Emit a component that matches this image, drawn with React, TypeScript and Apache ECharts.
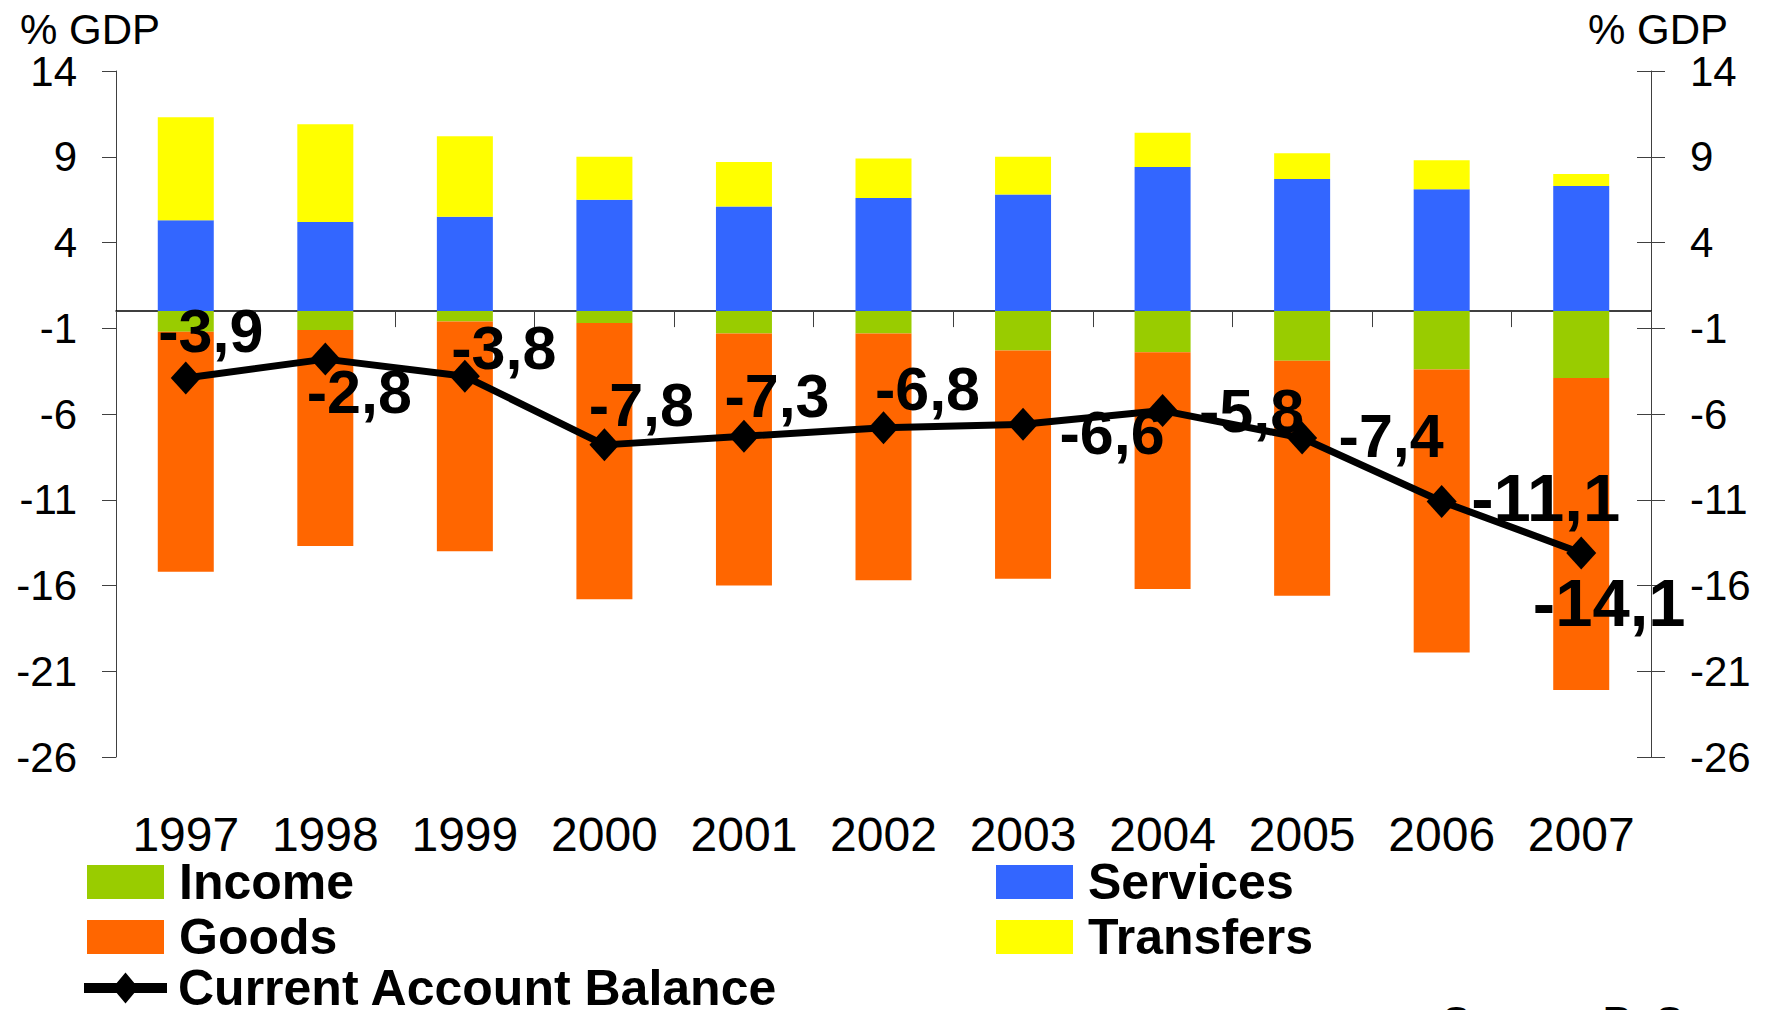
import React, { useEffect, useRef } from "react";
import * as echarts from "echarts";

const years = ["1997", "1998", "1999", "2000", "2001", "2002", "2003", "2004", "2005", "2006", "2007"];
const income = [-1.2, -1.1, -0.6, -0.7, -1.3, -1.3, -2.3, -2.4, -2.9, -3.4, -3.9];
const goods = [-14.0, -12.6, -13.4, -16.1, -14.7, -14.4, -13.3, -13.8, -13.7, -16.5, -18.2];
const services = [5.3, 5.2, 5.5, 6.5, 6.1, 6.6, 6.8, 8.4, 7.7, 7.1, 7.3];
const transfers = [6.0, 5.7, 4.7, 2.5, 2.6, 2.3, 2.2, 2.0, 1.5, 1.7, 0.7];
const balance = [-3.9, -2.8, -3.8, -7.8, -7.3, -6.8, -6.6, -5.8, -7.4, -11.1, -14.1];
const yTicks = [-26, -21, -16, -11, -6, -1, 4, 9, 14];

// label placement (layout only): [dx, dy, fontSize]
const labelLayout: [number, number, number][] = [
  [25, -47, 61],
  [34, 33, 61],
  [39, -28, 61],
  [37, -40, 61],
  [33, -40, 61],
  [44, -39, 61],
  [89, 9, 61],
  [89, 0, 61],
  [89, -2, 61],
  [104, -4, 67],
  [28, 50, 67],
];

const FONT = '"Liberation Sans", Arial, Helvetica, sans-serif';
const AXIS_COLOR = "#404040";
const LINE_ICON =
  "path://M0,10.5 L32.7,10.5 L41.5,0 L50.3,10.5 L83,10.5 L83,20.5 L50.3,20.5 L41.5,31 L32.7,20.5 L0,20.5 Z";

function legendFor(name: string, left: number, top: number, line = false) {
  const lg: any = {
    data: [{ name, icon: line ? LINE_ICON : "rect" }],
    left,
    top,
    orient: "vertical",
    padding: 0,
    itemGap: 0,
    selectedMode: false,
    itemWidth: line ? 83 : 77,
    itemHeight: line ? 31 : 34,
    textStyle: {
      fontFamily: FONT,
      fontSize: 50,
      fontWeight: "bold",
      color: "#000",
      padding: [0, 0, 0, line ? 6 : 10],
    },
  };
  if (line) {
    lg.itemStyle = { color: "#000", borderWidth: 0 };
    lg.lineStyle = { width: 0 };
  }
  return lg;
}

export default function App() {
  const ref = useRef<HTMLDivElement>(null);
  useEffect(() => {
    if (!ref.current) return;
    const chart = echarts.init(ref.current, undefined, { renderer: "svg" });
    const yAxisBase = {
      type: "value",
      min: -26,
      max: 14,
      interval: 5,
      splitLine: { show: false },
    };
    chart.setOption({
      animation: false,
      backgroundColor: "#fff",
      grid: { left: 116, right: 114, top: 71, bottom: 253, containLabel: false },
      legend: [
        legendFor("Income", 87, 857),
        legendFor("Goods", 87, 912),
        legendFor("Current Account Balance", 84, 963, true),
        legendFor("Services", 996, 857),
        legendFor("Transfers", 996, 912),
      ],
      graphic: [
        {
          type: "text",
          left: 20,
          top: 8,
          style: { text: "% GDP", font: `42px ${FONT}`, fill: "#000" },
        },
        {
          type: "text",
          left: 1588,
          top: 8,
          style: { text: "% GDP", font: `42px ${FONT}`, fill: "#000" },
        },
        {
          type: "text",
          left: 1443,
          top: 1001,
          style: { text: "Source: BoS", font: `bold 40px ${FONT}`, fill: "#000" },
        },
      ],
      xAxis: [
        {
          type: "category",
          data: years,
          position: "bottom",
          axisLine: { show: false, onZero: false },
          axisTick: { show: false },
          axisLabel: {
            fontFamily: FONT,
            fontSize: 48,
            color: "#000",
            margin: 53,
            interval: 0,
          },
        },
        {
          type: "category",
          data: years,
          position: "bottom",
          axisLine: { show: true, onZero: true, lineStyle: { color: "#000", width: 1.5 } },
          axisTick: { show: true, length: 16, interval: 0, lineStyle: { color: AXIS_COLOR, width: 1 } },
          axisLabel: { show: false },
        },
      ],
      yAxis: [
        {
          ...yAxisBase,
          position: "left",
          axisLine: { show: true, lineStyle: { color: AXIS_COLOR, width: 1 } },
          axisTick: { show: true, length: 14, customValues: yTicks, lineStyle: { color: AXIS_COLOR } },
          axisLabel: { fontFamily: FONT, fontSize: 42, color: "#000", margin: 39, customValues: yTicks },
        },
        {
          ...yAxisBase,
          position: "right",
          axisLine: { show: true, lineStyle: { color: AXIS_COLOR, width: 1 } },
          axisTick: { show: true, length: 14, customValues: yTicks, lineStyle: { color: AXIS_COLOR } },
          axisLabel: { fontFamily: FONT, fontSize: 42, color: "#000", margin: 39, customValues: yTicks },
        },
        {
          ...yAxisBase,
          position: "right",
          axisLine: { show: false },
          axisTick: { show: true, inside: true, length: 14, customValues: yTicks, lineStyle: { color: AXIS_COLOR } },
          axisLabel: { show: false },
        },
      ],
      series: [
        {
          name: "Services",
          type: "bar",
          stack: "ca",
          data: services,
          barWidth: 56,
          itemStyle: { color: "#3366FF" },
        },
        {
          name: "Transfers",
          type: "bar",
          stack: "ca",
          data: transfers,
          barWidth: 56,
          itemStyle: { color: "#FFFF00" },
        },
        {
          name: "Income",
          type: "bar",
          stack: "ca",
          data: income,
          barWidth: 56,
          itemStyle: { color: "#99CC00" },
        },
        {
          name: "Goods",
          type: "bar",
          stack: "ca",
          data: goods,
          barWidth: 56,
          itemStyle: { color: "#FF6600" },
        },
        {
          name: "Current Account Balance",
          type: "line",
          data: balance.map((v, i) => ({
            value: v,
            label: {
              offset: [labelLayout[i][0], labelLayout[i][1]],
              fontSize: labelLayout[i][2],
            },
          })),
          symbol: "diamond",
          symbolSize: [30, 33],
          z: 5,
          lineStyle: { color: "#000", width: 7 },
          itemStyle: { color: "#000" },
          label: {
            show: true,
            position: "inside",
            fontFamily: FONT,
            fontWeight: "bold",
            color: "#000",
            formatter: (p: any) => Number(p.value).toFixed(1).replace(".", ","),
          },
        },
      ],
    });
    return () => chart.dispose();
  }, []);
  return (
    <div
      ref={ref}
      style={{ position: "fixed", left: 0, top: 0, width: 1765, height: 1010, background: "#fff" }}
    />
  );
}
